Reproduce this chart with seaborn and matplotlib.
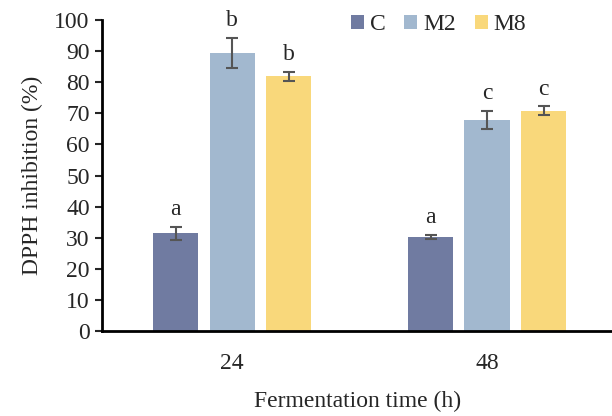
import matplotlib
matplotlib.use('Agg')
import matplotlib.pyplot as plt
import pandas as pd
import seaborn as sns

sns.set_theme(style='white')
plt.rcParams['font.family'] = ['Liberation Serif', 'DejaVu Serif']

# data
times = ['24', '48']
groups = ['C', 'M2', 'M8']
mean_c = [31.4, 30.3]
mean_m2 = [89.4, 67.9]
mean_m8 = [81.9, 70.9]
sd_c = [2.1, 0.6]
sd_m2 = [4.9, 2.9]
sd_m8 = [1.4, 1.3]
let_c = ['a', 'a']
let_m2 = ['b', 'c']
let_m8 = ['b', 'c']
colours = ['#707BA1', '#A2B8CF', '#F9D87B']

df = pd.DataFrame({
    'time': times * 3,
    'group': [g for g in groups for _ in times],
    'value': mean_c + mean_m2 + mean_m8,
    'sd': sd_c + sd_m2 + sd_m8,
    'letter': let_c + let_m2 + let_m8,
})

fig = plt.figure(figsize=(6.12, 4.16), dpi=100)
ax = fig.add_axes([0.167, 0.204, 0.833, 0.748])

sns.barplot(data=df, x='time', y='value', hue='group', order=times,
            hue_order=groups, palette=colours, saturation=1, width=0.665,
            gap=0.2, errorbar=None, linewidth=0, ax=ax)

# error bars and significance letters on each bar
for cont, g in zip(ax.containers, groups):
    sub = df[df.group == g].set_index('time').loc[times]
    for bar, (_, row) in zip(cont, sub.iterrows()):
        xc = bar.get_x() + bar.get_width() / 2
        h = bar.get_height()
        ax.errorbar(xc, h, yerr=row.sd, color='#555555', elinewidth=1.5,
                    capsize=4.5, capthick=1.5, zorder=5)
        ax.annotate(row.letter, (xc, h + row.sd), xytext=(0, 5),
                    textcoords='offset points', ha='center', va='bottom',
                    fontsize=17, annotation_clip=False)

ax.set_ylim(0, 100)
ax.set_yticks(range(0, 101, 10))
ax.set_xlim(-0.51, 1.49)
ax.set_xlabel('Fermentation time (h)', fontsize=17, labelpad=12)
ax.set_ylabel('DPPH inhibition (%)', fontsize=17, labelpad=8)
ax.tick_params(axis='y', left=True, direction='out', length=5, width=1.5,
               labelsize=17, pad=4)
ax.tick_params(axis='x', bottom=False, labelsize=17, pad=10)

sns.despine(ax=ax)
for s in ['left', 'bottom']:
    ax.spines[s].set_color('black')
    ax.spines[s].set_linewidth(2)

ax.legend(loc='center', bbox_to_anchor=(0.66, 0.984), ncol=3,
          frameon=False, fontsize=17, handlelength=0.55, handleheight=0.55,
          handletextpad=0.25, columnspacing=0.8)

fig.savefig('out.png', dpi=100)
